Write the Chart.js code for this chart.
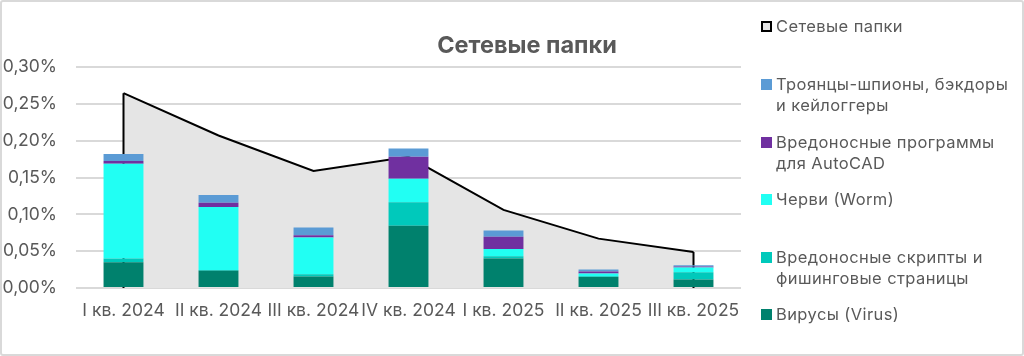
<!DOCTYPE html>
<html>
<head>
<meta charset="utf-8">
<script src="https://cdn.jsdelivr.net/npm/chart.js@4/dist/chart.umd.min.js"></script>
<style>
  html, body { margin: 0; padding: 0; background: #fff; }
  #wrap { position: relative; width: 1024px; height: 356px; overflow: hidden; font-family: Inter, "Noto Sans", sans-serif; }
  #frame { position: absolute; left: 0; top: 0; width: 1024px; height: 356px; box-sizing: border-box; border: 2px solid #d9d9d9; border-radius: 3px; pointer-events: none; }
  #chartBox { position: absolute; left: 0; top: 0; width: 1024px; height: 356px; }
  #legend { position: absolute; left: 0; top: 0; width: 1024px; height: 356px; }
  .item { position: absolute; left: 761px; width: 262px; display: flex; align-items: flex-start; color: #595959; font-size: 16.5px; letter-spacing: 0.4px; line-height: 21px; white-space: pre; }
  .sw { width: 11px; height: 11px; box-sizing: border-box; margin-top: 5px; margin-right: 4px; flex: none; }
</style>
</head>
<body>
<div id="wrap">
  <div id="chartBox"><canvas id="c"></canvas></div>
  <div id="legend"></div>
  <div id="frame"></div>
</div>
<script>
const categories = ["I кв. 2024", "II кв. 2024", "III кв. 2024", "IV кв. 2024", "I кв. 2025", "II кв. 2025", "III кв. 2025"];
const chartTitle = "Сетевые папки";

const networkFolders = [0.2645, 0.207, 0.159, 0.178, 0.106, 0.067, 0.049];
const viruses       = [0.035, 0.0235, 0.0155, 0.0845, 0.040, 0.015, 0.0114];
const scripts       = [0.005, 0.001, 0.003, 0.032, 0.003, 0.001, 0.010];
const worms         = [0.1285, 0.0855, 0.050, 0.0317, 0.010, 0.0036, 0.0064];
const autocad       = [0.004, 0.0056, 0.003, 0.030, 0.0165, 0.0027, 0.0015];
const trojans       = [0.0095, 0.0108, 0.0105, 0.011, 0.0085, 0.0027, 0.0015];

const seriesNames = {
  network: "Сетевые папки",
  trojans: "Троянцы-шпионы, бэкдоры\nи кейлоггеры",
  autocad: "Вредоносные программы\nдля AutoCAD",
  worms: "Черви (Worm)",
  scripts: "Вредоносные скрипты и\nфишинговые страницы",
  viruses: "Вирусы (Virus)"
};

const yTickValues = [0, 0.05, 0.10, 0.15, 0.20, 0.25, 0.30];
const yTickLabels = ["0,00%", "0,05%", "0,10%", "0,15%", "0,20%", "0,25%", "0,30%"];

const colors = {
  network: "#e5e5e5",
  trojans: "#5b9bd5",
  autocad: "#7030a0",
  worms: "#21fff3",
  scripts: "#00c9bb",
  viruses: "#00816d"
};

const FONT = 'Inter, "Noto Sans", sans-serif';
const TEXT = "#595959";

const areaEdges = {
  id: "areaEdges",
  afterDatasetDraw(chart, args) {
    if (args.meta.type !== "line") return;
    const pts = args.meta.data;
    if (!pts.length) return;
    const y0 = chart.scales.y.getPixelForValue(0);
    const ctx = chart.ctx;
    ctx.save();
    ctx.strokeStyle = "#000";
    ctx.lineWidth = 2;
    ctx.beginPath();
    const a = pts[0], b = pts[pts.length - 1];
    ctx.moveTo(a.x, y0); ctx.lineTo(a.x, a.y);
    ctx.moveTo(b.x, b.y); ctx.lineTo(b.x, y0);
    ctx.stroke();
    ctx.restore();
  }
};
const titlePlugin = {
  id: "customTitle",
  afterDraw(chart) {
    const ctx = chart.ctx;
    ctx.save();
    ctx.font = "bold 23.5px " + FONT;
    ctx.fillStyle = TEXT;
    ctx.textAlign = "center";
    ctx.textBaseline = "middle";
    ctx.fillText(chartTitle, 527, 46);
    ctx.restore();
  }
};

function barDs(key, data) {
  return {
    type: "bar", label: seriesNames[key], data: data, backgroundColor: colors[key],
    stack: "bars", order: 1, barPercentage: 0.42, categoryPercentage: 1, borderWidth: 0
  };
}

new Chart(document.getElementById("c"), {
  data: {
    labels: categories,
    datasets: [
      { type: "line", label: seriesNames.network, data: networkFolders, stack: "area", order: 10,
        fill: "origin", backgroundColor: colors.network, borderColor: "#000", borderWidth: 2,
        pointRadius: 0, tension: 0 },
      barDs("viruses", viruses),
      barDs("scripts", scripts),
      barDs("worms", worms),
      barDs("autocad", autocad),
      barDs("trojans", trojans)
    ]
  },
  options: {
    responsive: true, maintainAspectRatio: false, animation: false,
    layout: { padding: { left: 0, right: 283, top: 67, bottom: 0 } },
    plugins: { legend: { display: false }, tooltip: { enabled: false }, title: { display: false } },
    scales: {
      x: {
        stacked: true, offset: true,
        grid: { display: false, drawTicks: false },
        border: { display: false },
        ticks: { color: TEXT, font: { family: FONT, size: 17.5 }, padding: 12, maxRotation: 0, autoSkip: false },
        afterFit(s) { s.height = 68; }
      },
      y: {
        stacked: true, min: 0, max: 0.30,
        grid: { color: "#d9d9d9", lineWidth: 2, drawTicks: false },
        border: { display: false },
        afterBuildTicks(s) { s.ticks = yTickValues.map(v => ({ value: v })); },
        ticks: {
          color: TEXT, font: { family: FONT, size: 17.5 }, padding: 19,
          callback(v) { const i = yTickValues.findIndex(t => Math.abs(t - v) < 1e-9); return i >= 0 ? yTickLabels[i] : ""; }
        },
        afterFit(s) { s.width = 76; }
      }
    }
  },
  plugins: [areaEdges, titlePlugin]
});

const legendItems = [
  { key: "network", top: 16 },
  { key: "trojans", top: 74 },
  { key: "autocad", top: 132 },
  { key: "worms", top: 189 },
  { key: "scripts", top: 247 },
  { key: "viruses", top: 304 }
];
const lg = document.getElementById("legend");
legendItems.forEach(it => {
  const d = document.createElement("div");
  d.className = "item";
  d.style.top = it.top + "px";
  const sw = document.createElement("span");
  sw.className = "sw";
  sw.style.background = colors[it.key];
  if (it.key === "network") sw.style.border = "2px solid #000";
  const t = document.createElement("span");
  t.textContent = seriesNames[it.key];
  d.appendChild(sw); d.appendChild(t);
  lg.appendChild(d);
});
</script>
</body>
</html>
